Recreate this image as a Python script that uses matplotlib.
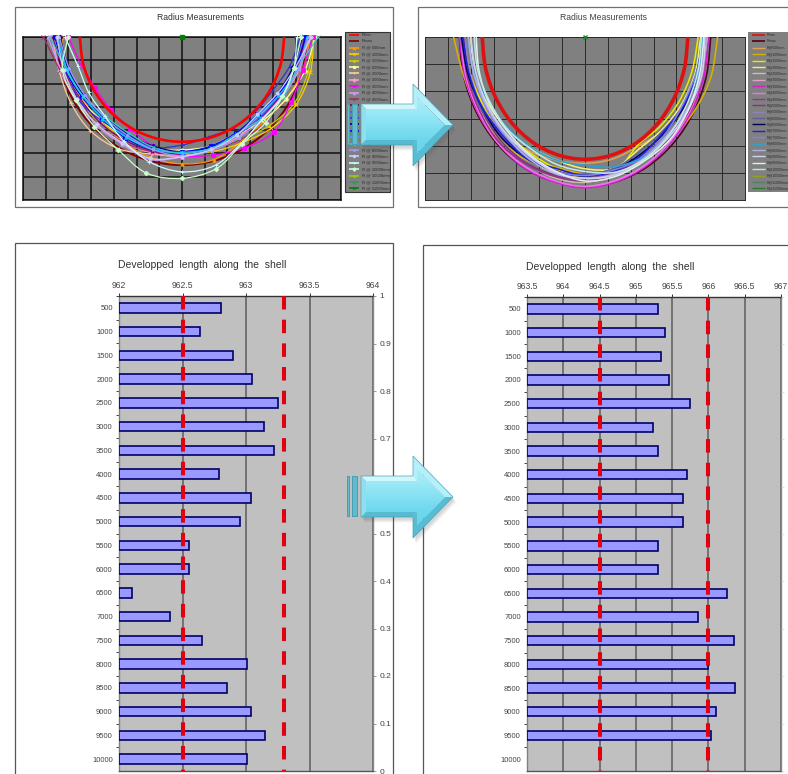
#! /usr/bin/env python3
import numpy as np
import matplotlib

matplotlib.use("Agg")
import matplotlib.pyplot as plt
from matplotlib.patches import PathPatch, Polygon, Rectangle
from matplotlib.path import Path

plt.rcParams["font.family"] = ["Liberation Sans", "DejaVu Sans"]

W, H = 788, 774

# radius measurements, one value per angle
angles = [-90, -75, -60, -45, -30, -15, 0, 15, 30, 45, 60, 75, 90]

names_left = ["Rmin", "Rmax"] + [f"R @ {s}mm" for s in range(500, 12000, 500)]
names_right = ["Rmin", "Rmax"] + [f"R@{s}mm" for s in range(500, 12000, 500)]

colors_left = ["#ff0000", "#800000", "#ff9900", "#ffcc00", "#cccc00", "#ffff99", "#ffcc99", "#ff99cc",
               "#ff00ff", "#cc99ff", "#993366", "#800080", "#3366ff", "#3333cc", "#000080", "#0000ff",
               "#00ccff", "#33cccc", "#9999ff", "#ccccff", "#ccffff", "#ccffcc", "#99cc00", "#339966", "#008000"]
colors_right = ["#dd1111", "#500020", "#e0a050", "#d8b000", "#e8e800", "#f0f070", "#c8c0a8", "#e0a0c8",
                "#d020d0", "#f070f0", "#a03090", "#803080", "#9080c0", "#6060a0", "#000050", "#2020e0",
                "#8080f0", "#30a0d0", "#b0b0e0", "#d0d0f0", "#e0f0f0", "#c0e8e0", "#90a020", "#508060", "#208030"]

left_rmin = [4.5, 4.5, 4.5, 4.5, 4.5, 4.5, 4.5, 4.5, 4.5, 4.5, 4.5, 4.5, 4.5]
left_rmax = [5.5, 5.5, 5.5, 5.5, 5.5, 5.5, 5.5, 5.5, 5.5, 5.5, 5.5, 5.5, 5.5]
left_r500 = [5.3, 5.25, 5.15, 5.1, 5.2, 5.35, 5.45, 5.45, 5.2, 5.1, 5.3, 5.5, 5.65]
left_r1000 = [5.5, 5.35, 5.2, 5.05, 5.0, 4.95, 5.0, 5.1, 5.25, 5.55, 5.8, 5.85, 5.8]
left_r1500 = [5.6, 5.4, 5.3, 5.15, 5.0, 5.0, 4.98, 5.0, 5.1, 5.4, 5.7, 5.75, 5.8]
left_r2000 = [5.6, 5.35, 5.2, 5.05, 4.95, 4.95, 4.85, 4.85, 4.85, 5.05, 5.3, 5.6, 5.85]
left_r2500 = [5.7, 5.6, 5.65, 5.7, 5.55, 5.2, 5.1, 4.85, 4.75, 4.75, 5.0, 5.3, 5.6]
left_r3000 = [5.75, 5.55, 5.4, 5.3, 5.2, 5.15, 5.12, 5.0, 4.95, 4.9, 5.1, 5.35, 5.6]
left_r3500 = [5.0, 4.6, 4.4, 4.42, 4.55, 4.85, 5.1, 5.25, 5.5, 5.75, 5.55, 5.5, 5.75]
left_r4000 = [5.9, 5.5, 5.3, 5.35, 5.3, 5.45, 5.15, 4.95, 4.8, 4.8, 5.0, 5.3, 5.6]
left_r4500 = [6.1, 5.55, 5.25, 5.3, 5.2, 5.1, 5.0, 5.0, 5.1, 5.2, 5.1, 5.25, 5.45]
left_r5000 = [5.7, 5.4, 5.2, 5.15, 5.1, 5.05, 5.02, 4.95, 4.85, 4.9, 5.0, 5.2, 5.4]
left_r5500 = [5.5, 5.3, 5.05, 4.95, 4.9, 4.95, 4.95, 4.9, 4.85, 4.85, 4.95, 5.1, 5.3]
left_r6000 = [5.4, 5.15, 5.3, 5.05, 4.85, 4.9, 4.64, 4.45, 4.5, 4.55, 4.6, 4.9, 5.2]
left_r6500 = [5.35, 5.2, 5.0, 4.85, 4.8, 4.85, 4.93, 4.9, 4.8, 4.75, 4.85, 5.05, 5.3]
left_r7000 = [5.6, 5.35, 5.1, 4.95, 5.0, 5.0, 4.93, 4.85, 4.75, 4.7, 4.9, 5.15, 5.45]
left_r7500 = [5.5, 5.25, 5.05, 4.95, 4.95, 5.0, 4.95, 4.95, 4.85, 4.75, 4.95, 5.3, 5.5]
left_r8000 = [5.8, 5.3, 5.05, 4.8, 4.75, 4.9, 5.0, 4.95, 4.8, 4.95, 5.15, 5.25, 6.0]
left_r8500 = [5.4, 5.15, 4.95, 4.85, 4.85, 5.0, 5.1, 5.05, 5.0, 5.0, 5.1, 5.3, 5.55]
left_r9000 = [5.5, 5.4, 5.35, 5.3, 5.25, 5.4, 5.14, 5.0, 4.85, 4.7, 4.85, 5.15, 5.7]
left_r9500 = [5.15, 4.75, 4.75, 4.8, 5.15, 5.55, 5.79, 5.7, 5.25, 5.0, 5.1, 5.1, 5.05]
left_r10000 = [5.0, 5.45, 5.4, 5.45, 5.6, 6.05, 6.07, 5.85, 5.3, 5.2, 5.1, 5.1, 5.25]
left_r10500 = []
left_r11000 = []
left_r11500 = [0.0]

right_rmin = [4.5, 4.5, 4.5, 4.5, 4.5, 4.5, 4.5, 4.5, 4.5, 4.5, 4.5, 4.5, 4.5]
right_rmax = [5.5, 5.5, 5.5, 5.5, 5.5, 5.5, 5.5, 5.5, 5.5, 5.5, 5.5, 5.5, 5.5]
right_r500 = [5.3, 5.2, 5.1, 5.0, 4.85, 4.7, 4.65, 4.65, 4.65, 4.85, 5.1, 5.3, 5.3]
right_r1000 = [5.75, 5.5, 5.4, 5.3, 5.2, 4.95, 5.05, 5.1, 5.15, 5.3, 5.5, 5.7, 5.8]
right_r1500 = [5.3, 5.2, 5.1, 5.0, 4.9, 5.0, 5.2, 5.15, 4.6, 4.65, 4.75, 4.85, 4.95]
right_r2000 = [5.0, 5.0, 4.9, 4.8, 4.7, 4.7, 4.85, 5.0, 4.75, 4.8, 4.9, 5.0, 5.05]
right_r2500 = [5.4, 5.35, 5.35, 5.3, 5.3, 5.35, 5.35, 5.2, 5.0, 4.95, 5.05, 5.2, 5.4]
right_r3000 = [5.4, 5.45, 5.45, 5.45, 5.45, 5.5, 5.5, 5.45, 5.4, 5.4, 5.35, 5.3, 5.25]
right_r3500 = [5.5, 5.45, 5.45, 5.45, 5.5, 5.5, 5.55, 5.5, 5.45, 5.4, 5.4, 5.4, 5.4]
right_r4000 = [5.45, 5.4, 5.4, 5.45, 5.45, 5.45, 5.5, 5.45, 5.4, 5.35, 5.3, 5.25, 5.2]
right_r4500 = [5.35, 5.35, 5.35, 5.4, 5.35, 5.3, 5.3, 5.25, 5.2, 5.25, 5.3, 5.3, 5.3]
right_r5000 = [5.3, 5.25, 5.25, 5.3, 5.3, 5.25, 5.2, 5.15, 5.1, 5.15, 5.2, 5.25, 5.3]
right_r5500 = [5.25, 5.2, 5.2, 5.15, 5.1, 5.1, 5.1, 5.0, 5.05, 5.1, 5.15, 5.1, 5.2]
right_r6000 = [5.45, 5.3, 5.25, 5.15, 5.05, 5.1, 5.05, 5.0, 4.85, 4.85, 5.0, 5.15, 5.25]
right_r6500 = [5.4, 5.3, 5.2, 5.2, 5.15, 5.1, 5.12, 5.05, 4.95, 4.95, 5.05, 5.15, 5.2]
right_r7000 = [5.35, 5.25, 5.2, 5.1, 5.15, 5.0, 5.1, 5.1, 5.0, 4.9, 5.0, 5.05, 5.15]
right_r7500 = [5.1, 5.05, 5.05, 5.05, 5.05, 5.1, 5.1, 5.05, 5.1, 5.0, 4.95, 5.05, 5.3]
right_r8000 = [5.15, 5.0, 4.85, 4.75, 4.7, 4.7, 4.72, 4.95, 5.1, 5.2, 5.25, 5.15, 5.15]
right_r8500 = [5.1, 5.05, 5.0, 5.0, 5.1, 5.2, 5.2, 5.2, 5.15, 5.1, 5.2, 5.25, 5.35]
right_r9000 = [5.0, 4.95, 4.95, 4.95, 5.0, 5.15, 5.2, 5.25, 5.2, 5.2, 5.25, 5.3, 5.25]
right_r9500 = [4.76, 4.8, 4.85, 4.85, 4.95, 5.1, 5.3, 5.3, 5.25, 5.3, 5.25, 5.2, 5.2]
right_r10000 = [4.85, 4.85, 4.8, 4.8, 4.75, 4.85, 4.95, 5.15, 5.2, 5.15, 5.1, 5.1, 5.1]
right_r10500 = []
right_r11000 = []
right_r11500 = [0.0]

left_series = [left_rmin, left_rmax, left_r500, left_r1000, left_r1500, left_r2000, left_r2500, left_r3000,
               left_r3500, left_r4000, left_r4500, left_r5000, left_r5500, left_r6000, left_r6500, left_r7000,
               left_r7500, left_r8000, left_r8500, left_r9000, left_r9500, left_r10000, left_r10500,
               left_r11000, left_r11500]
right_series = [right_rmin, right_rmax, right_r500, right_r1000, right_r1500, right_r2000, right_r2500,
                right_r3000, right_r3500, right_r4000, right_r4500, right_r5000, right_r5500, right_r6000,
                right_r6500, right_r7000, right_r7500, right_r8000, right_r8500, right_r9000, right_r9500,
                right_r10000, right_r10500, right_r11000, right_r11500]

# developed length per station
stations = [500, 1000, 1500, 2000, 2500, 3000, 3500, 4000, 4500, 5000,
            5500, 6000, 6500, 7000, 7500, 8000, 8500, 9000, 9500, 10000]
length_before = [962.80, 962.64, 962.90, 963.05, 963.25, 963.14, 963.22, 962.79, 963.04, 962.95,
                 962.55, 962.55, 962.10, 962.40, 962.65, 963.01, 962.85, 963.04, 963.15, 963.01]
length_after = [965.30, 965.40, 965.34, 965.45, 965.75, 965.24, 965.31, 965.71, 965.65, 965.65,
                965.31, 965.31, 966.25, 965.85, 966.35, 966.00, 966.36, 966.10, 966.04, np.nan]
ticks_before = [962, 962.5, 963, 963.5, 964]
ticks_after = [963.5, 964, 964.5, 965, 965.5, 966, 966.5, 967]
limits_before = [962.5, 963.3]
limits_after = [964.5, 966.0]
right_axis_ticks = [0, 0.1, 0.2, 0.3, 0.4, 0.5, 0.6, 0.7, 0.8, 0.9, 1]
right_axis_labels = ["0", "0.1", "0.2", "0.3", "0.4", "0.5", "0.6", "0.7", "0.8", "0.9", "1"]

title_top = "Radius Measurements"
title_bottom = "Developped  length  along  the  shell"


def px_axes(x0, y0, x1, y1, zorder=1):
    return fig.add_axes([x0 / W, 1 - y1 / H, (x1 - x0) / W, (y1 - y0) / H], zorder=zorder)


def smooth_path(x, y):
    # catmull-rom through the points, as bezier segments
    pts = np.column_stack([x, y])
    ext = np.vstack([pts[0], pts, pts[-1]])
    verts = [pts[0]]
    codes = [Path.MOVETO]
    for i in range(1, len(ext) - 2):
        verts += [ext[i] + (ext[i + 1] - ext[i - 1]) / 6, ext[i + 1] - (ext[i + 2] - ext[i]) / 6, ext[i + 1]]
        codes += [Path.CURVE4] * 3
    return Path(verts, codes)


def radius_panel(ax, series, colors, n_rows, grid_lw, grid_color, use_markers):
    ax.set_facecolor("#808080")
    ax.set_xlim(-7, 7)
    ax.set_ylim(0, n_rows)
    ax.set_xticks(range(-7, 8))
    ax.set_yticks(range(0, n_rows + 1))
    ax.tick_params(length=0, labelbottom=False, labelleft=False)
    ax.grid(True, color=grid_color, lw=grid_lw)
    ax.set_axisbelow(True)
    for s in ax.spines.values():
        s.set_color(grid_color)
        s.set_linewidth(grid_lw)
    markers = ["D", "s", "^", "x", "*", "o", "+"]
    theta = np.radians(angles)
    for i, (r, c) in enumerate(zip(series, colors)):
        if len(r) == 0:
            continue
        if len(r) == 1:
            ax.plot([0], [n_rows - r[0]], marker="s" if use_markers else "x", ms=3, color=c, clip_on=False, zorder=6)
            continue
        x = np.array(r) * np.sin(theta)
        y = n_rows - np.array(r) * np.cos(theta)
        lw = 1.9 if i == 0 else (1.4 if i == 1 else 0.9)
        if not use_markers:
            lw = 2.6 if i == 0 else 1.15
        order = 5 if i == 0 else 3 + i * 0.01
        ax.add_patch(PathPatch(smooth_path(x, y), fc="none", ec=c, lw=lw, zorder=order))
        if use_markers and i > 1:
            ax.plot(x, y, ls="none", marker=markers[i % 7], ms=2.4, mew=0.6, color=c, clip_on=False, zorder=order)


def length_panel(ax, values, ticks, limits, labelled_right):
    left, right = ticks[0], ticks[-1]
    ax.set_facecolor("#c0c0c0")
    ax.set_xlim(left, right)
    ax.set_ylim(len(stations) - 0.5, -0.5)
    ypos = np.arange(len(stations))
    ax.set_axisbelow(True)
    ax.xaxis.tick_top()
    ax.set_xticks(ticks)
    ax.set_xticklabels([f"{t:g}" for t in ticks], fontsize=6.2, color="#444444")
    ax.tick_params(axis="x", length=2, width=0.7, color="#333333", pad=2.5)
    ax.grid(True, axis="x", color="#5c5c5c", lw=1.1)
    ax.set_yticks(ypos - 0.5)
    ax.set_yticklabels([])
    ax.set_yticks(ypos, minor=True)
    ax.set_yticklabels([str(s) for s in stations], minor=True, fontsize=5.5, color="#444444")
    ax.tick_params(axis="y", which="major", length=2, width=0.7, color="#444444")
    ax.tick_params(axis="y", which="minor", length=0, pad=4.5)
    for side, c in [("top", "#333333"), ("left", "#808080"), ("bottom", "#555555"), ("right", "#888888")]:
        ax.spines[side].set_color(c)
        ax.spines[side].set_linewidth(1.0)
    ax.barh(ypos, np.array(values) - left, left=left, height=0.4, color="#9999ff", edgecolor="#000066", lw=1.2, zorder=3)
    for v in limits:
        ax.plot([v, v], [-0.5, len(stations) - 0.5], color="#e00010", lw=2.9, ls=(0, (3.35, 2.53)), zorder=4)
    ax2 = ax.twinx()
    ax2.set_ylim(0, 1)
    ax2.set_yticks(right_axis_ticks)
    for s in ax2.spines.values():
        s.set_visible(False)
    if labelled_right:
        ax2.set_yticklabels(right_axis_labels, fontsize=6.0, color="#444444")
        ax2.tick_params(axis="y", length=2.5, width=0.6, color="#888888", pad=2)
    else:
        ax2.set_yticklabels([])
        ax2.tick_params(axis="y", length=2, width=0.5, color="#d0d0d0")


def legend_entries(ov, x_line0, x_line1, x_text, names, colors, use_markers, size):
    markers = ["D", "s", "^", "x", "*", "o", "+"]
    for i, (name, c) in enumerate(zip(names, colors)):
        y = 35 + i * 6.39
        lw = 1.2 if i < 2 or use_markers else 1.0
        ov.plot([x_line0, x_line1], [y, y], color=c, lw=lw, solid_capstyle="butt")
        if use_markers and i > 1:
            ov.plot([(x_line0 + x_line1) / 2], [y], ls="none", marker=markers[i % 7], ms=2, mew=0.5, color=c)
        ov.text(x_text, y, name, fontsize=size, color="#2a2a2a", va="center", ha="left")


def draw_arrow(ov, dy):
    # body 361..413, head to x=453
    t, b, ht, hb, m = 476 + dy, 517 + dy, 456 + dy, 538 + dy, 497 + dy
    x0, xn, xt = 361, 413, 453
    outline = [(x0, t), (xn, t), (xn, ht), (xt, m), (xn, hb), (xn, b), (x0, b)]
    for k in range(1, 6):
        shifted = [(x + 1 + k * 0.4, y + 1.5 + k * 0.8) for x, y in outline]
        ov.add_patch(Polygon(shifted, fc="#555555", ec="none", alpha=0.05, zorder=20))
    # stripes
    for a, e in [(347.3, 350.2), (352.5, 357.6)]:
        ov.add_patch(Rectangle((a, t), e - a, b - t, fc="#4a9fb4", ec="none", zorder=21))
        ov.add_patch(Rectangle((a + 0.8, t + 1), e - a - 1.6, b - t - 2, fc="#62bacd", ec="none", zorder=21))
    i = 5
    it, ib = t + i, b - i
    ihx, itx = xn + 4, xt - 8
    iht, ihb = ht + 13, hb - 13
    # bevel facets
    ov.add_patch(Polygon([(x0, t), (xn, t), (ihx, it), (x0 + i, it)], fc="#d2f7fb", ec="none", zorder=21))
    ov.add_patch(Polygon([(x0, b), (xn, b), (ihx, ib), (x0 + i, ib)], fc="#56bad0", ec="none", zorder=21))
    ov.add_patch(Polygon([(x0, t), (x0 + i, it), (x0 + i, ib), (x0, b)], fc="#8fdfee", ec="none", zorder=21))
    ov.add_patch(Polygon([(xn, t), (xn, ht), (xt, m), (itx, m), (ihx, iht), (ihx, it)], fc="#b4f0f9", ec="none", zorder=21))
    ov.add_patch(Polygon([(xn, b), (xn, hb), (xt, m), (itx, m), (ihx, ihb), (ihx, ib)], fc="#58bcd3", ec="none", zorder=21))
    face = Polygon([(x0 + i, it), (ihx, it), (ihx, iht), (itx, m), (ihx, ihb), (ihx, ib), (x0 + i, ib)], closed=True,
                   fc="none", ec="none", zorder=22)
    ov.add_patch(face)
    grad = np.linspace(0, 1, 64).reshape(-1, 1)
    im = ov.imshow(grad, extent=(x0, xt, hb, ht), aspect="auto", zorder=22,
                   cmap=matplotlib.colors.LinearSegmentedColormap.from_list("a", ["#b8f2fa", "#9ae9f6", "#6fd8ee", "#62d0e8"]))
    im.set_clip_path(face)
    ov.add_patch(Polygon(outline, closed=True, fc="none", ec="#4ba3b8", lw=0.5, zorder=23))


fig = plt.figure(figsize=(W / 100, H / 100), dpi=100, facecolor="white")

# frames and legends live in a pixel-coordinate axes under the plots
under = px_axes(0, 0, W, H, zorder=0)
under.set_xlim(0, W)
under.set_ylim(H, 0)
under.axis("off")
under.add_patch(Rectangle((15.5, 6.5), 377.5, 200.5, fc="white", ec="#707070", lw=0.9))
under.add_patch(Rectangle((418.5, 6.5), 380, 200.5, fc="white", ec="#707070", lw=0.9))
under.add_patch(Rectangle((15.5, 242.5), 377.5, 540, fc="white", ec="#555555", lw=0.9))
under.add_patch(Rectangle((423.5, 244.5), 380, 540, fc="white", ec="#555555", lw=0.9))
under.add_patch(Rectangle((345, 32), 45.5, 160, fc="#808080", ec="#333333", lw=0.8))
under.add_patch(Rectangle((748, 32), 60, 160, fc="#808080", ec="none"))
legend_entries(under, 349, 359, 362, names_left, colors_left, True, 3.1)
legend_entries(under, 752, 765, 766.5, names_right, colors_right, False, 2.6)
under.text(201, 17, title_top, fontsize=6.2, color="#333333", ha="center", va="center")
under.text(604, 17, title_top, fontsize=6.2, color="#444444", ha="center", va="center")
under.text(202, 265, title_bottom, fontsize=7.5, color="#333333", ha="center", va="center")
under.text(610, 267, title_bottom, fontsize=7.5, color="#333333", ha="center", va="center")

ax_tl = px_axes(23, 37, 341, 200)
radius_panel(ax_tl, left_series, colors_left, 7, 1.1, "#111111", True)
ax_tr = px_axes(425, 37, 745, 200)
radius_panel(ax_tr, right_series, colors_right, 6, 0.7, "#2a2a2a", False)

ax_bl = px_axes(119, 296, 373, 771)
length_panel(ax_bl, length_before, ticks_before, limits_before, True)
ax_br = px_axes(527, 297, 781, 771)
length_panel(ax_br, length_after, ticks_after, limits_after, False)

# the two big arrows on top of everything
over = px_axes(0, 0, W, H, zorder=10)
over.patch.set_alpha(0)
draw_arrow(over, -372)
draw_arrow(over, 0)
over.set_xlim(0, W)
over.set_ylim(H, 0)
over.axis("off")

fig.savefig("out.png", dpi=100)
